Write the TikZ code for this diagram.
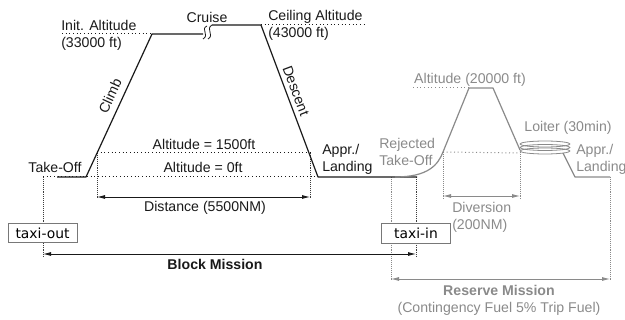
\documentclass[tikz,border=0pt]{standalone}
\usepackage{fontspec}
\setmainfont{Liberation Sans}
\newfontfamily\boxfont{DejaVu Sans}
\usetikzlibrary{arrows.meta,positioning}
\definecolor{pathblack}{RGB}{25,25,25}
\definecolor{resgray}{RGB}{138,138,138}
\definecolor{boxgray}{RGB}{120,120,120}
\tikzset{
  profile/.style={draw=pathblack,line width=0.9pt,line join=round},
  reserve/.style={draw=resgray,line width=0.9pt,line join=round},
  levelguide/.style={draw=pathblack,dotted,line width=0.75pt},
  resguide/.style={draw=resgray,dotted,line width=0.75pt},
  vguide/.style={draw=pathblack!85,densely dotted,line width=0.45pt},
  resvguide/.style={draw=resgray,densely dotted,line width=0.45pt},
  span/.style={{Latex[length=6pt,width=3pt]}-{Latex[length=6pt,width=3pt]},
    line width=0.6pt,draw=pathblack},
  resspan/.style={span,draw=resgray},
  lab/.style={font=\fontsize{10.6}{12.8}\selectfont,inner sep=0pt,
    text=pathblack,align=left},
  reslab/.style={lab,text=resgray},
  taxibox/.style={draw=boxgray,fill=white,line width=0.5pt,inner sep=0pt,
    minimum width=51.5pt,minimum height=14.5pt,
    font=\boxfont\fontsize{10.4}{12}\selectfont}
}

\begin{document}
\begin{tikzpicture}[x=0.75pt,y=-0.75pt]
  \useasboundingbox (0,0) rectangle (625,320);
  % mission profile points
  \coordinate (roll) at (57,177);
  \coordinate (lift) at (86,177);
  \coordinate (topL) at (152,34);
  \coordinate (cruA) at (203,34);
  \coordinate (cruB) at (212,25);
  \coordinate (topR) at (261,25);
  \coordinate (ldg) at (318,177);
  \coordinate (blkEnd) at (417,177);
  \coordinate (rto) at (395,177);
  \coordinate (rtoUp) at (443,152);
  \coordinate (altL) at (469,88);
  \coordinate (altR) at (493,88);
  \coordinate (loiIn) at (520,150);
  \coordinate (loiOut) at (563,153);
  \coordinate (appB) at (575,177);
  \coordinate (resEnd) at (610,177);

  % level guides
  \draw[levelguide] (43,177) -- (ldg);
  \draw[levelguide] (97,153) -- (310,153);
  \draw[levelguide] (62,34) -- (topL);
  \draw[levelguide] (topR) -- (367,25);
  \draw[resguide] (rtoUp) -- (520,153);
  \draw[resguide] (413,88) -- (altL);

  % vertical guides
  \draw[vguide] (97,153) -- (97,199);
  \draw[vguide] (310,153) -- (310,199);
  \draw[vguide] (43,177) -- (43,257);
  \draw[vguide] (416,177) -- (416,257);
  \draw[resvguide] (391,177) -- (391,281);
  \draw[resvguide] (resEnd) -- (610,281);
  \draw[resvguide] (443,152) -- (443,199);
  \draw[resvguide] (520,152) -- (520,199);

  % block mission
  \draw[profile] (roll) -- (lift) -- (topL) -- (cruA);
  \draw[profile,line width=0.6pt] (207,26) .. controls (200,29) and (210,35) .. (203,39);
  \draw[profile,line width=0.6pt] (212,25) .. controls (205,29) and (215,35) .. (208,39);
  \draw[profile] (cruB) -- (topR) -- (ldg) -- (blkEnd);

  % reserve mission
  \draw[reserve] (rto) .. controls (428,177) and (438,165) .. (rtoUp)
    -- (altL) -- (altR) -- (loiIn);
  \foreach \ly in {144,147.5,151}
    \draw[reserve,line width=0.6pt] (545,\ly) ellipse [x radius=25,y radius=3];
  \draw[reserve] (loiOut) -- (appB) -- (resEnd);

  % spans
  \draw[span] (97,197) -- (310,197);
  \draw[span] (43,254) -- (416,254);
  \draw[resspan] (443,196) -- (520,196);
  \draw[resspan] (391,279) -- (610,279);

  % boxes
  \node[taxibox] (taxiout) at (42.5,233) {taxi-out};
  \node[taxibox] (taxiin) at (416,233.5) {taxi-in};

  % labels
  \node[lab,anchor=west] (initalt) at (61,35.5) {Init. Altitude\\(33000 ft)};
  \node[lab] (cruise) at (207,17) {Cruise};
  \node[lab,anchor=west] (ceilalt) at (268,25.5) {Ceiling Altitude\\(43000 ft)};
  \node[lab,rotate=65.2] (climb) at (110,96) {Climb};
  \node[lab,rotate=-69.4] (descent) at (296,91) {Descent};
  \node[lab] (alt1500) at (204,144) {Altitude = 1500ft};
  \node[lab] (alt0) at (203,167) {Altitude = 0ft};
  \node[lab] (takeoff) at (55,167) {Take-Off};
  \node[lab,anchor=west] (appr) at (322,159.5) {Appr./\\Landing};
  \node[lab] (dist) at (205,208) {Distance (5500NM)};
  \node[lab,font=\bfseries\fontsize{10.6}{12.8}\selectfont] (blkmis) at (215,264) {Block Mission};
  \node[reslab] (alt20) at (470,80) {Altitude (20000 ft)};
  \node[reslab] (loiter) at (568,128) {Loiter (30min)};
  \node[reslab,anchor=west] (rejto) at (379,151.5) {Rejected\\Take-Off};
  \node[reslab,anchor=west] (resappr) at (576,159) {Appr./\\Landing};
  \node[reslab,anchor=west] (divert) at (452,217) {Diversion\\(200NM)};
  \node[reslab,font=\bfseries\fontsize{10.6}{12.8}\selectfont] (resmis) at (499,290) {Reserve Mission};
  \node[reslab] (contfuel) at (499,309) {(Contingency Fuel 5\% Trip Fuel)};
\end{tikzpicture}
\end{document}
